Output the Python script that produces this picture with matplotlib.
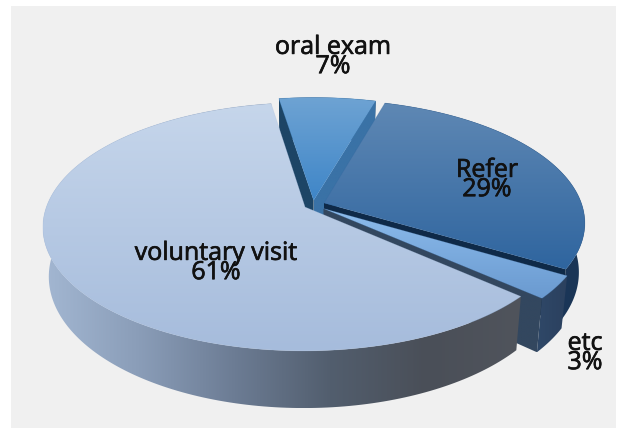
import numpy as np
import matplotlib
matplotlib.use('Agg')
import matplotlib.pyplot as plt
import matplotlib.patheffects as pe
from matplotlib.colors import LinearSegmentedColormap
from matplotlib.patches import PathPatch, Rectangle
from matplotlib.path import Path

labels = ['voluntary visit', 'oral exam', 'Refer', 'etc']
values = [61, 7, 29, 3]
explode = [0.035, 0.04, 0.046, 0.05]
label_pos = [(216, 263), (333, 57), (487, 180), (585, 353)]

# look of the tilted pie, in pixels of the picture
origin = (313, 205)
radius = 258
tilt_y = 120.4
persp = 0.158
depth = 48
shrink = 0.022

top_colors = {
    'voluntary visit': ['#c6d6eb', '#a6bcdc'],
    'oral exam': ['#6ea3d3', '#3f86c8'],
    'Refer': ['#5f88b4', '#2f659f'],
    'etc': ['#8dbcec', '#6a9ad0'],
}
rim_colors = {
    'voluntary visit': ['#a3b7d2', '#8a9db8', '#6c7c94', '#525e6e', '#4a4f58', '#50545c'],
    'oral exam': ['#1f4668', '#1f4668'],
    'Refer': ['#1c3d63', '#1a3556'],
    'etc': ['#2f4868', '#2b405e'],
}
cut_colors = {
    'oral exam': ['#3a72a6', '#1d4566'],
    'Refer': ['#0f2a48', '#0f2a48'],
    'etc': ['#33475f', '#2f4563'],
}

fig = plt.figure(figsize=(6.18, 4.29), dpi=100, facecolor='white')

# the pie itself works out the angles and the explode offsets
calc_ax = fig.add_axes([0, 0, 0.01, 0.01])
wedges, _ = calc_ax.pie(values, explode=explode, startangle=-41.4, counterclock=False)
calc_ax.set_visible(False)

ax = fig.add_axes([0, 0, 1, 1])
ax.set_xlim(0, 618)
ax.set_ylim(429, 0)
ax.axis('off')
ax.add_patch(Rectangle((11, 6), 605, 422, facecolor='#f0f0f0', edgecolor='none', zorder=0))


def project(u, v, drop=False):
    w = 1 + persp * v
    x = radius * u / w
    y = origin[1] - tilt_y * v / w
    if drop:
        x = x * (1 - shrink)
        y = y + depth / w
    return np.column_stack([x + origin[0], y])


def fill_shape(points, colors, horizontal=False, zorder=1, stroke=True):
    path = Path(np.vstack([points, points[:1]]), closed=True)
    patch = PathPatch(path, facecolor='none', edgecolor='none', zorder=zorder)
    ax.add_patch(patch)
    x0, y0 = points.min(axis=0)
    x1, y1 = points.max(axis=0)
    cmap = LinearSegmentedColormap.from_list('g', colors)
    grad = np.linspace(0, 1, 256)
    grad = grad[None, :] if horizontal else grad[:, None]
    im = ax.imshow(grad, cmap=cmap, extent=(x0, x1, y1, y0), aspect='auto', zorder=zorder,
                   interpolation='bilinear')
    im.set_clip_path(patch)
    if stroke:
        # thin edge so the clipped image doesn't look jagged
        mid = colors[len(colors) // 2]
        ax.add_patch(PathPatch(path, facecolor='none', edgecolor=mid, linewidth=0.5, alpha=0.3, zorder=zorder))


def arc_of(wedge):
    th = np.radians(np.linspace(wedge.theta1, wedge.theta2, 200))
    cu, cv = wedge.center
    return cu + np.cos(th), cv + np.sin(th), cu, cv


# back to front
draw_order = ['oral exam', 'Refer', 'etc', 'voluntary visit']
z = 1
for name in draw_order:
    wedge = wedges[labels.index(name)]
    u, v, cu, cv = arc_of(wedge)
    top = project(u, v)
    low = project(u, v, drop=True)
    apex_top = project(np.array([cu]), np.array([cv]))
    apex_low = project(np.array([cu]), np.array([cv]), drop=True)

    fill_shape(np.vstack([top, low[::-1]]), rim_colors[name], horizontal=True, zorder=z, stroke=False)
    z += 1

    if name in cut_colors:
        right_c, left_c = cut_colors[name]
        # theta1 is the clockwise-most edge
        fill_shape(np.vstack([top[:1], low[:1], apex_low, apex_top]), [right_c, right_c], zorder=z, stroke=False)
        z += 1
        if name == 'oral exam':
            # both cut faces of this one are visible
            fill_shape(np.vstack([top[-1:], low[-1:], apex_low, apex_top]), [left_c, left_c], zorder=z, stroke=False)
            z += 1

    fill_shape(np.vstack([apex_top, top]), top_colors[name], zorder=z)
    z += 1

for name, value, (tx, ty) in zip(labels, values, label_pos):
    t = ax.text(tx, ty, f'{name}\n{value}%', ha='center', va='center', fontsize=18, linespacing=0.7,
                color='#111111', family='Open Sans', zorder=z)
    t.set_path_effects([pe.withStroke(linewidth=0.5, foreground='#111111')])

ax.set_xlim(0, 618)
ax.set_ylim(429, 0)
fig.savefig('out.png', dpi=100, facecolor='white')
